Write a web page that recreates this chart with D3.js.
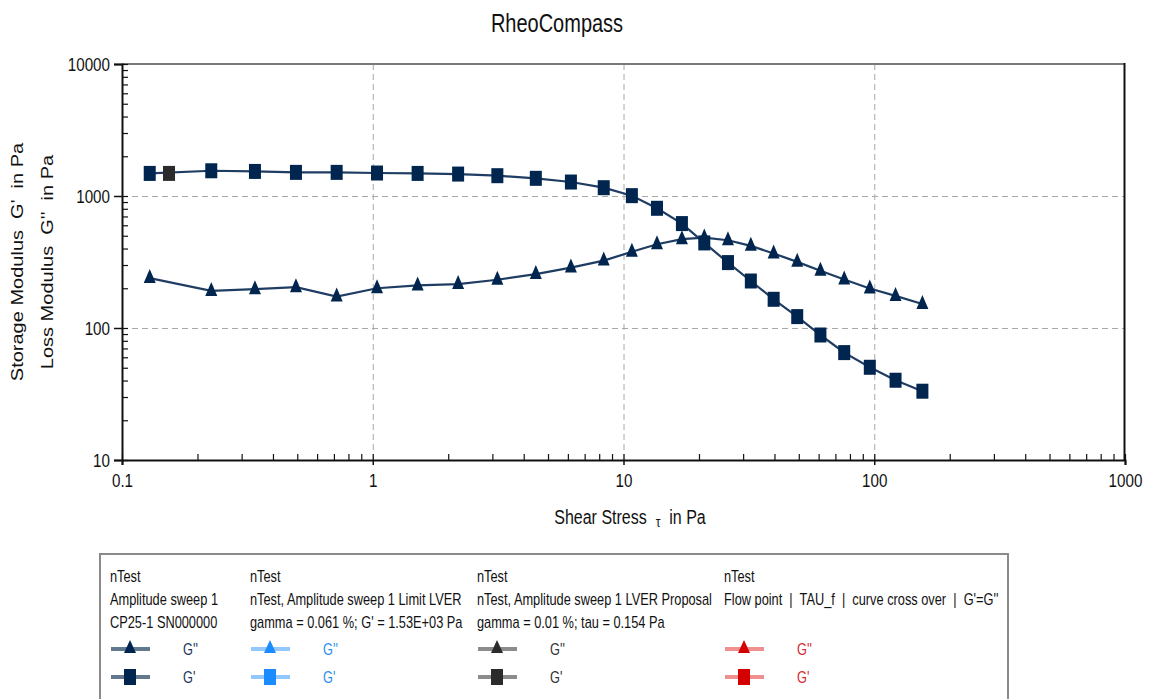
<!DOCTYPE html>
<html>
<head>
<meta charset="utf-8">
<script src="https://cdn.jsdelivr.net/npm/d3@7"></script>
<style>
  html, body { margin: 0; padding: 0; background: #fff; }
  svg { display: block; font-family: "Liberation Sans", Arial, sans-serif; }
  text { white-space: pre; }
</style>
</head>
<body>
<svg id="chart" width="1155" height="699"></svg>
<script>
// ---------------- data ----------------
const chartTitle = "RheoCompass";
const shearStress = [0.129, 0.227, 0.339, 0.494, 0.718, 1.04, 1.51, 2.19, 3.14, 4.47, 6.17, 8.34,
  10.8, 13.6, 17.1, 21.0, 26.1, 32.2, 39.7, 49.3, 61.0, 75.9, 96.0, 121.6, 155.6];
const storageModulus = [1483, 1553, 1535, 1510, 1510, 1493, 1483, 1466, 1425, 1361, 1276, 1156,
  1006, 807, 618, 441, 313, 227, 165, 122, 88.5, 65.1, 50.4, 40.2, 33.2];
const lossModulus = [239, 191, 197, 204, 173, 200, 210, 215, 232, 256, 287, 324,
  378, 431, 471, 484, 462, 419, 367, 317, 271, 233, 199, 175, 152];
const lverProposalStress = [0.154];
const lverProposalG1 = [1483];
const xTickValues = [0.1, 1, 10, 100, 1000];
const xTickLabels = ["0.1", "1", "10", "100", "1000"];
const yTickValues = [10, 100, 1000, 10000];
const yTickLabels = ["10", "100", "1000", "10000"];
const xTitleParts = ["Shear Stress  ", "\u03C4", "  in Pa"];
const yTitleLines = ["Storage Modulus  G'  in Pa", "Loss Modulus  G''  in Pa"];
const legendHeaders = [
  ["nTest", "Amplitude sweep 1", "CP25-1 SN000000"],
  ["nTest", "nTest, Amplitude sweep 1 Limit LVER", "gamma = 0.061 %; G' = 1.53E+03 Pa"],
  ["nTest", "nTest, Amplitude sweep 1 LVER Proposal", "gamma = 0.01 %; tau = 0.154 Pa"],
  ["nTest", "Flow point  |  TAU_f  |  curve cross over  |  G'=G''"]
];
const legendSeriesNames = ["G''", "G'"];

// ---------------- layout / style ----------------
const SX = 0.8; // horizontal text compression
const plot = { left: 122, right: 1125, top: 64, bottom: 460 };
const legendColX = [110, 250, 477, 724];
const legendStyles = [
  { marker: "#00264f", line: "#62788f", label: "#1b365d" },
  { marker: "#1a8cff", line: "#92c7ff", label: "#2a8ff0" },
  { marker: "#2b2b2b", line: "#8c8c8c", label: "#333333" },
  { marker: "#d40000", line: "#ee9090", label: "#d42a2a" }
];
const navy = "#00264f";
const lineCol = "#1f3d63";

const svg = d3.select("#chart");

const x = d3.scaleLog().domain([0.1, 1000]).range([plot.left, plot.right]);
const y = d3.scaleLog().domain([10, 10000]).range([plot.bottom, plot.top]);

function sText(g, tx, ty, str, size, anchor, fill) {
  return g.append("text")
    .attr("transform", `translate(${tx},${ty}) scale(${SX},1)`)
    .attr("font-size", size)
    .attr("text-anchor", anchor || "start")
    .attr("fill", fill || "#000")
    .text(str);
}

// title
sText(svg, 557, 32, chartTitle, 25, "middle", "#111");

// grid lines
const gridX = svg.append("g")
  .attr("transform", `translate(0,${plot.bottom})`)
  .call(d3.axisBottom(x).tickValues(xTickValues.slice(1, -1)).tickSize(-(plot.bottom - plot.top)).tickFormat(""));
gridX.select(".domain").remove();
gridX.selectAll("line").attr("stroke", "#a8a8a8").attr("stroke-dasharray", "6,4").attr("stroke-width", 1);

const gridY = svg.append("g")
  .attr("transform", `translate(${plot.left},0)`)
  .call(d3.axisLeft(y).tickValues(yTickValues.slice(1, -1)).tickSize(-(plot.right - plot.left)).tickFormat(""));
gridY.select(".domain").remove();
gridY.selectAll("line").attr("stroke", "#a8a8a8").attr("stroke-dasharray", "6,4").attr("stroke-width", 1);

// frame top & right
svg.append("line").attr("x1", plot.left).attr("x2", plot.right).attr("y1", plot.top).attr("y2", plot.top)
  .attr("stroke", "#7a7a7a").attr("stroke-width", 2);
svg.append("line").attr("x1", plot.right - 0.5).attr("x2", plot.right - 0.5).attr("y1", plot.top - 1).attr("y2", plot.bottom)
  .attr("stroke", "#111").attr("stroke-width", 2);

// minor ticks (inside)
const minorX = svg.append("g")
  .attr("transform", `translate(0,${plot.bottom})`)
  .call(d3.axisBottom(x).tickValues(x.ticks()).tickSize(-6).tickFormat(""));
minorX.select(".domain").remove();
minorX.selectAll("line").attr("stroke", "#111").attr("stroke-width", 1.2);

const minorY = svg.append("g")
  .attr("transform", `translate(${plot.left},0)`)
  .call(d3.axisLeft(y).tickValues(y.ticks()).tickSize(-6).tickFormat(""));
minorY.select(".domain").remove();
minorY.selectAll("line").attr("stroke", "#111").attr("stroke-width", 1.2);

// major axes
const xAxis = svg.append("g")
  .attr("transform", `translate(0,${plot.bottom})`)
  .call(d3.axisBottom(x).tickValues(xTickValues).tickSize(5).tickPadding(9)
    .tickFormat((d, i) => xTickLabels[i]));
xAxis.select(".domain").attr("stroke", "#111").attr("stroke-width", 2);
xAxis.selectAll("line").attr("stroke", "#111").attr("stroke-width", 1.5);
xAxis.selectAll("text").attr("font-size", 19).attr("fill", "#111")
  .attr("font-family", "'Liberation Sans', Arial, sans-serif")
  .attr("transform", `scale(${SX},1)`);

const yAxis = svg.append("g")
  .attr("transform", `translate(${plot.left},0)`)
  .call(d3.axisLeft(y).tickValues(yTickValues).tickSize(8).tickPadding(7)
    .tickFormat((d, i) => yTickLabels[i]));
yAxis.select(".domain").attr("stroke", "#111").attr("stroke-width", 2);
yAxis.selectAll("line").attr("stroke", "#111").attr("stroke-width", 1.5);
yAxis.selectAll("text").attr("font-size", 19).attr("fill", "#111")
  .attr("font-family", "'Liberation Sans', Arial, sans-serif")
  .attr("transform", `scale(${SX},1)`);

// axis titles
const xt = svg.append("text")
  .attr("transform", `translate(630,524) scale(${SX},1)`)
  .attr("font-size", 20).attr("text-anchor", "middle").attr("fill", "#111");
xt.append("tspan").text(xTitleParts[0]);
xt.append("tspan").attr("font-size", 15).attr("dy", 3).text(xTitleParts[1]);
xt.append("tspan").attr("dy", -3).text(xTitleParts[2]);

const yTitleX = [23, 53];
yTitleLines.forEach((s, i) => {
  svg.append("text")
    .attr("transform", `translate(${yTitleX[i]},262) scale(${SX},1) rotate(-90)`)
    .attr("font-size", 20).attr("text-anchor", "middle").attr("fill", "#111")
    .text(s);
});

// series
const g2 = shearStress.map((t, i) => ({ t, v: lossModulus[i] }));
const g1 = shearStress.map((t, i) => ({ t, v: storageModulus[i] }));
const lineGen = d3.line().x(d => x(d.t)).y(d => y(d.v));

const triPath = "M0,-9L6,5L-6,5Z";
const sqW = 12, sqH = 15;

svg.append("path").datum(g2).attr("d", lineGen)
  .attr("fill", "none").attr("stroke", lineCol).attr("stroke-width", 2.2);
svg.append("g").selectAll("path").data(g2).join("path")
  .attr("transform", d => `translate(${x(d.t)},${y(d.v)})`)
  .attr("d", triPath).attr("fill", navy);

svg.append("path").datum(g1).attr("d", lineGen)
  .attr("fill", "none").attr("stroke", lineCol).attr("stroke-width", 2.2);
svg.append("g").selectAll("rect").data(g1).join("rect")
  .attr("x", d => x(d.t) - sqW / 2).attr("y", d => y(d.v) - sqH / 2)
  .attr("width", sqW).attr("height", sqH).attr("fill", navy);

// LVER proposal point
svg.append("g").selectAll("rect").data(lverProposalStress.map((t, i) => ({ t, v: lverProposalG1[i] }))).join("rect")
  .attr("x", d => x(d.t) - sqW / 2).attr("y", d => y(d.v) - sqH / 2)
  .attr("width", sqW).attr("height", sqH).attr("fill", "#2b2b2b");

// legend
svg.append("rect").attr("x", 100).attr("y", 554).attr("width", 908).attr("height", 200)
  .attr("fill", "none").attr("stroke", "#8a8a8a").attr("stroke-width", 2);

legendHeaders.forEach((lines, c) => {
  const cx = legendColX[c];
  const st = legendStyles[c];
  lines.forEach((s, r) => sText(svg, cx, 582 + r * 23, s, 16, "start", "#111"));
  legendSeriesNames.forEach((name, r) => {
    const ry = r === 0 ? 649 : 677;
    svg.append("line").attr("x1", cx + 1).attr("x2", cx + 40).attr("y1", ry).attr("y2", ry)
      .attr("stroke", st.line).attr("stroke-width", 4);
    if (r === 0) {
      svg.append("path").attr("transform", `translate(${cx + 20},${ry})`)
        .attr("d", "M0,-9L6,4L-6,4Z").attr("fill", st.marker);
    } else {
      svg.append("rect").attr("x", cx + 20 - 6).attr("y", ry - 8).attr("width", 12).attr("height", 16)
        .attr("fill", st.marker);
    }
    sText(svg, cx + 73, ry + 6, name, 16, "start", st.label);
  });
});
</script>
</body>
</html>
